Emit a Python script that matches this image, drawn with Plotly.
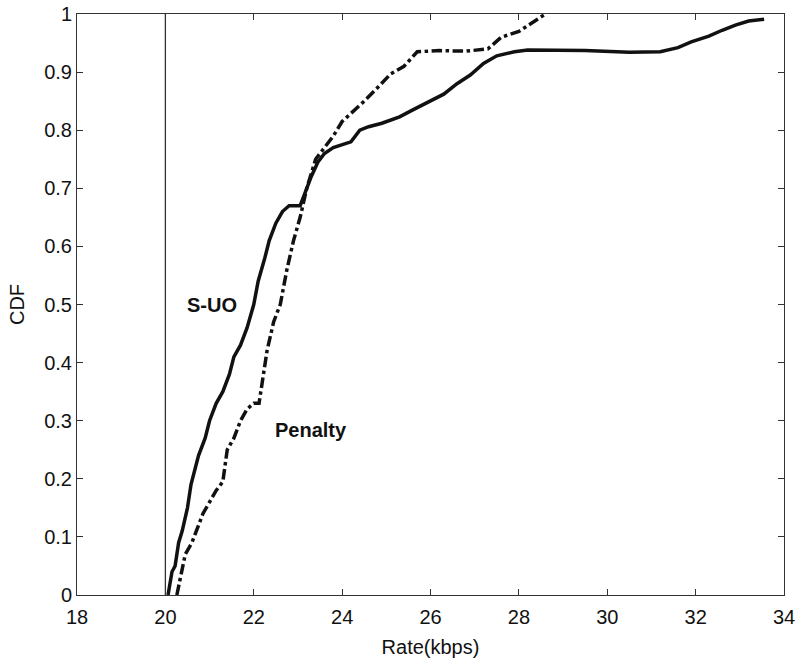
import plotly.graph_objects as go

# Empirical CDF of the achieved rate (kbps) for the two schemes
suo_rate = [20.06, 20.15, 20.22, 20.30, 20.38, 20.45, 20.50, 20.58, 20.65, 20.75,
            20.90, 21.00, 21.15, 21.30, 21.45, 21.55, 21.70, 21.85, 22.00, 22.10,
            22.25, 22.35, 22.50, 22.65, 22.80, 23.05, 23.15, 23.30, 23.45, 23.60,
            23.80, 24.00, 24.20, 24.40, 24.60, 24.90, 25.30, 25.60, 26.00, 26.30,
            26.60, 26.90, 27.20, 27.50, 27.90, 28.20, 29.50, 30.50, 31.20, 31.60,
            31.90, 32.30, 32.60, 32.90, 33.20, 33.55]
suo_cdf = [0.00, 0.04, 0.05, 0.09, 0.11, 0.13, 0.15, 0.19, 0.21, 0.24,
           0.27, 0.30, 0.33, 0.35, 0.38, 0.41, 0.43, 0.46, 0.50, 0.54,
           0.58, 0.61, 0.64, 0.66, 0.67, 0.67, 0.69, 0.72, 0.745, 0.76,
           0.77, 0.775, 0.78, 0.80, 0.806, 0.812, 0.823, 0.835, 0.85, 0.862,
           0.88, 0.895, 0.915, 0.928, 0.935, 0.938, 0.937, 0.934, 0.935, 0.942,
           0.952, 0.962, 0.972, 0.981, 0.988, 0.991]

penalty_rate = [20.26, 20.35, 20.45, 20.60, 20.70, 20.85, 21.00, 21.15, 21.30, 21.35,
                21.40, 21.55, 21.70, 21.85, 22.00, 22.12, 22.20, 22.30, 22.45, 22.60,
                22.75, 22.90, 23.05, 23.20, 23.40, 23.60, 23.80, 24.00, 24.30, 24.50,
                24.80, 25.10, 25.40, 25.70, 26.20, 26.80, 27.30, 27.60, 28.00, 28.30,
                28.60]
penalty_cdf = [0.00, 0.03, 0.07, 0.09, 0.11, 0.14, 0.16, 0.18, 0.195, 0.22,
               0.25, 0.27, 0.30, 0.32, 0.33, 0.33, 0.37, 0.42, 0.47, 0.50,
               0.56, 0.61, 0.65, 0.70, 0.75, 0.77, 0.79, 0.815, 0.835, 0.85,
               0.873, 0.897, 0.91, 0.935, 0.937, 0.936, 0.94, 0.96, 0.97, 0.985,
               1.00]

x_ticks = [18, 20, 22, 24, 26, 28, 30, 32, 34]
y_ticks = [0, 0.1, 0.2, 0.3, 0.4, 0.5, 0.6, 0.7, 0.8, 0.9, 1]
y_tick_text = ["0", "0.1", "0.2", "0.3", "0.4", "0.5", "0.6", "0.7", "0.8", "0.9", "1"]
ref_rate = 20

FONT = "Liberation Sans, Arial, Helvetica, sans-serif"
INK = "#111111"
FS = 20

fig = go.Figure()
fig.add_trace(go.Scatter(x=suo_rate, y=suo_cdf, mode="lines", name="S-UO",
                         line=dict(color=INK, width=3.5)))
fig.add_trace(go.Scatter(x=penalty_rate, y=penalty_cdf, mode="lines", name="Penalty",
                         line=dict(color=INK, width=3.5, dash="dashdot")))

# vertical reference line at 20 kbps
fig.add_shape(type="line", xref="x", yref="paper", x0=ref_rate, x1=ref_rate, y0=0, y1=1,
              line=dict(color="#333333", width=1.3))

fig.add_annotation(x=21.05, y=0.50, text="<b>S-UO</b>", showarrow=False,
                   xanchor="center", yanchor="middle",
                   font=dict(family=FONT, size=FS, color=INK))
fig.add_annotation(x=23.29, y=0.284, text="<b>Penalty</b>", showarrow=False,
                   xanchor="center", yanchor="middle",
                   font=dict(family=FONT, size=FS, color=INK))

axis_common = dict(showline=True, linecolor="#333333", linewidth=1, mirror="ticks",
                   ticks="inside", ticklen=6, tickcolor="#333333", tickwidth=1,
                   showgrid=False, zeroline=False, automargin=False,
                   tickfont=dict(family=FONT, size=FS, color=INK))

fig.update_xaxes(range=[18, 34], tickvals=x_ticks, ticklabelstandoff=4,
                 title=dict(text="Rate(kbps)", font=dict(family=FONT, size=FS, color=INK),
                            standoff=12),
                 **axis_common)
fig.update_yaxes(range=[0, 1], tickvals=y_ticks, ticktext=y_tick_text,
                 title=dict(text="CDF", font=dict(family=FONT, size=FS, color=INK),
                            standoff=14),
                 **axis_common)

fig.update_layout(width=799, height=664, showlegend=False,
                  paper_bgcolor="white", plot_bgcolor="white",
                  margin=dict(l=77, r=15, t=14, b=69))

fig.write_html("out.html")
